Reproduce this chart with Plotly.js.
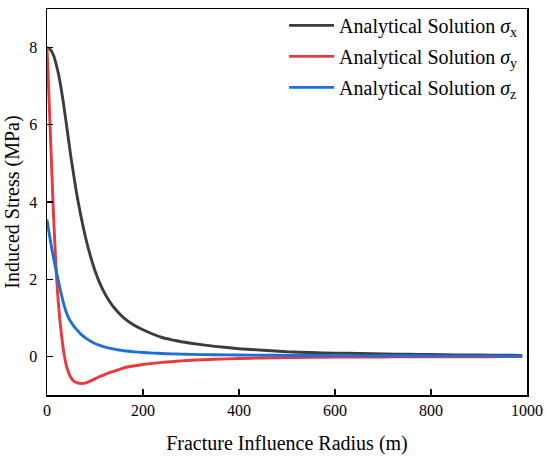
<!DOCTYPE html>
<html>
<head>
<meta charset="utf-8">
<script src="https://cdn.plot.ly/plotly-3.0.1.min.js"></script>
<style>html,body{margin:0;padding:0;background:#fff;}#chart{width:550px;height:458px;}</style>
</head>
<body>
<div id="chart"></div>
<script>
// Fracture influence radius (m)
var radius = [0,2,4,6,8,10,12,14,16,18,20,22,25,28,30,35,40,45,50,55,60,65,70,75,80,90,100,110,120,130,140,150,160,180,200,220,240,260,280,300,350,400,450,500,550,600,650,700,750,800,850,900,950,990];
// Induced stress sigma_x (MPa)
var sigmaX = [8.0,7.99,7.98,7.96,7.93,7.9,7.84,7.79,7.71,7.62,7.52,7.42,7.25,7.05,6.9,6.5,6.05,5.6,5.15,4.75,4.35,4.0,3.68,3.38,3.1,2.62,2.22,1.9,1.64,1.43,1.26,1.12,1.0,0.82,0.69,0.58,0.49,0.43,0.38,0.34,0.26,0.2,0.16,0.12,0.1,0.085,0.075,0.065,0.055,0.05,0.04,0.035,0.03,0.025];
// Induced stress sigma_y (MPa)
var sigmaY = [8.0,7.4,6.75,6.1,5.45,4.8,4.15,3.55,3.0,2.5,2.05,1.65,1.2,0.8,0.58,0.1,-0.22,-0.42,-0.55,-0.63,-0.67,-0.69,-0.7,-0.7,-0.69,-0.64,-0.58,-0.52,-0.47,-0.42,-0.38,-0.34,-0.3,-0.25,-0.21,-0.18,-0.155,-0.135,-0.115,-0.1,-0.075,-0.055,-0.04,-0.03,-0.025,-0.02,-0.017,-0.015,-0.012,-0.01,-0.009,-0.008,-0.007,-0.006];
// Induced stress sigma_z (MPa)
var sigmaZ = [3.55,3.39,3.23,3.08,2.93,2.79,2.66,2.53,2.41,2.29,2.17,2.05,1.88,1.7,1.6,1.35,1.15,1.0,0.89,0.8,0.72,0.65,0.585,0.53,0.48,0.4,0.335,0.285,0.245,0.213,0.187,0.166,0.148,0.12,0.1,0.086,0.075,0.066,0.058,0.052,0.042,0.035,0.03,0.026,0.023,0.021,0.019,0.017,0.016,0.015,0.014,0.013,0.012,0.012];
var seriesNames = ['Analytical Solution <i>σ</i><sub>x</sub>','Analytical Solution <i>σ</i><sub>y</sub>','Analytical Solution <i>σ</i><sub>z</sub>'];
var xTicks = [0,200,400,600,800,1000];
var yTicks = [0,2,4,6,8];

var colors = ['#3c3c3c','#ea383f','#1e6fd6'];
var ys = [sigmaX, sigmaY, sigmaZ];
var traces = ys.map(function(y,i){
  return {x: radius, y: y, type:'scatter', mode:'lines', name: seriesNames[i], legendgroup:'g'+i,
    line:{color:colors[i], width:2.9, shape:'spline', smoothing:0.4}};
});

var fam = 'Liberation Serif';
var layout = {
  width:550, height:458,
  margin:{l:47, r:23, t:9, b:63, autoexpand:false},
  paper_bgcolor:'#fff', plot_bgcolor:'#fff',
  font:{family:fam, size:16, color:'#000'},
  showlegend:true,
  legend:{x:0.494, xanchor:'left', y:1.008, yanchor:'top', bgcolor:'rgba(0,0,0,0)', tracegroupgap:2,
    font:{size:20, family:fam, color:'#000'}, itemwidth:45},
  xaxis:{range:[0,1000], tickvals:xTicks, ticktext:xTicks.map(String), ticks:'inside', ticklen:6, tickwidth:1.3, tickcolor:'#000',
    showline:true, linecolor:'#000', linewidth:1.5, mirror:true, showgrid:false, zeroline:false,
    tickfont:{size:16, family:fam}, title:{text:'Fracture Influence Radius (m)', font:{size:20, family:fam}, standoff:18}},
  yaxis:{range:[-1,9], tickvals:yTicks, ticktext:yTicks.map(String), ticks:'inside', ticklen:6, tickwidth:1.3, tickcolor:'#000',
    showline:true, linecolor:'#000', linewidth:1.5, mirror:true, showgrid:false, zeroline:false, ticklabelstandoff:5,
    tickfont:{size:16, family:fam}, title:{text:'Induced Stress (MPa)', font:{size:20, family:fam}, standoff:4}}
};
Plotly.newPlot('chart', traces, layout, {staticPlot:true, displayModeBar:false});
</script>
</body>
</html>
